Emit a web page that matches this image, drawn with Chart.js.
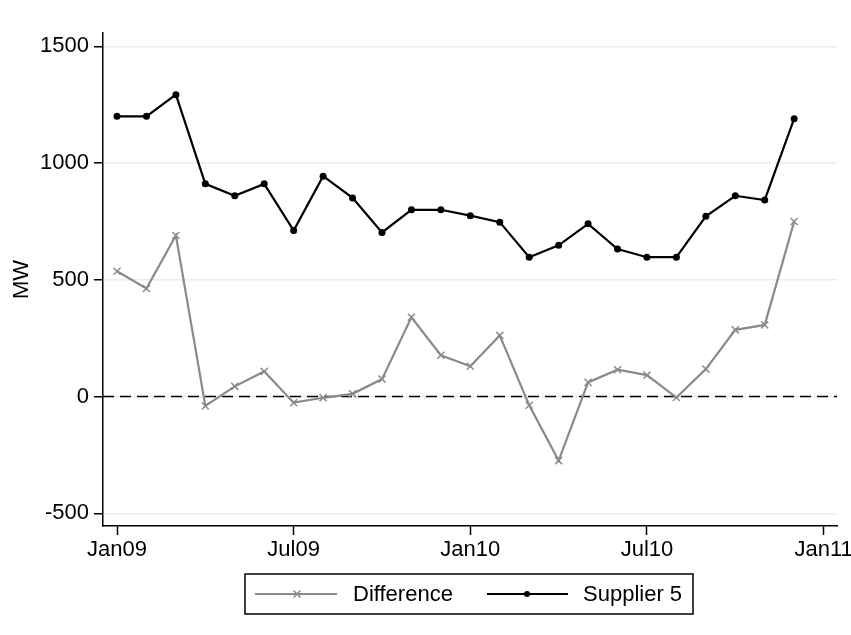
<!DOCTYPE html>
<html>
<head>
<meta charset="utf-8">
<script src="https://cdn.jsdelivr.net/npm/chart.js@4.4.1/dist/chart.umd.min.js"></script>
<style>
  html, body { margin: 0; padding: 0; background: #fff; }
  #wrap { width: 851px; height: 635px; position: relative; }
</style>
</head>
<body>
<div id="wrap"><canvas id="c" width="851" height="635"></canvas></div>
<script>
// Monthly observations, Jan 2009 – Dec 2010
const months = ['Jan09','Feb09','Mar09','Apr09','May09','Jun09','Jul09','Aug09','Sep09','Oct09','Nov09','Dec09',
                'Jan10','Feb10','Mar10','Apr10','May10','Jun10','Jul10','Aug10','Sep10','Oct10','Nov10','Dec10'];
const supplier5  = [1200, 1200, 1293, 911, 860, 911, 711, 944, 851, 703, 800, 800,
                    775, 747, 597, 648, 740, 632, 597, 597, 772, 860, 842, 1190];
const difference = [537, 463, 690, -40, 44, 108, -26, -5, 12, 75, 340, 177,
                    130, 262, -37, -274, 61, 115, 92, -4, 118, 286, 307, 750];

// Axis ticks (x in months since Jan09)
const xTickMonths = [0, 6, 12, 18, 24];
const xTickLabels = ['Jan09', 'Jul09', 'Jan10', 'Jul10', 'Jan11'];
const yTickValues = [-500, 0, 500, 1000, 1500];
const seriesNames = ['Difference', 'Supplier 5'];
const yTitle = 'MW';

const FONT = "'Liberation Sans', Arial, sans-serif";
const GRAY = '#8a8a8a';
const BLACK = '#000000';

const toPoints = arr => arr.map((v, i) => ({ x: i, y: v }));

// Dashed reference line at zero
const zeroLine = {
  id: 'zeroLine',
  beforeDatasetsDraw(chart) {
    const { ctx, chartArea, scales } = chart;
    const y = scales.y.getPixelForValue(0);
    ctx.save();
    ctx.strokeStyle = BLACK;
    ctx.lineWidth = 1.5;
    ctx.setLineDash([11, 6]);
    ctx.beginPath();
    ctx.moveTo(chartArea.left, y);
    ctx.lineTo(chartArea.right, y);
    ctx.stroke();
    ctx.restore();
  }
};

// Boxed legend below the axis
const boxedLegend = {
  id: 'boxedLegend',
  afterDraw(chart) {
    const ctx = chart.ctx;
    const box = { x: 245, y: 574, w: 448, h: 40 };
    const cy = box.y + box.h / 2;
    ctx.save();
    ctx.strokeStyle = BLACK;
    ctx.lineWidth = 1.5;
    ctx.strokeRect(box.x, box.y, box.w, box.h);

    ctx.font = '22px ' + FONT;
    ctx.fillStyle = BLACK;
    ctx.textBaseline = 'middle';

    // Difference: gray line with x marker
    ctx.strokeStyle = GRAY;
    ctx.lineWidth = 2;
    ctx.beginPath(); ctx.moveTo(255, cy); ctx.lineTo(337, cy); ctx.stroke();
    ctx.lineWidth = 1.5;
    const r = 3.5;
    ctx.beginPath();
    ctx.moveTo(297 - r, cy - r); ctx.lineTo(297 + r, cy + r);
    ctx.moveTo(297 - r, cy + r); ctx.lineTo(297 + r, cy - r);
    ctx.stroke();
    ctx.fillText(seriesNames[0], 353, cy + 1);

    // Supplier 5: black line with dot
    ctx.strokeStyle = BLACK;
    ctx.lineWidth = 2;
    ctx.beginPath(); ctx.moveTo(487, cy); ctx.lineTo(568, cy); ctx.stroke();
    ctx.beginPath(); ctx.arc(527, cy, 3, 0, Math.PI * 2); ctx.fill();
    ctx.fillText(seriesNames[1], 583, cy + 1);
    ctx.restore();
  }
};

new Chart(document.getElementById('c'), {
  type: 'line',
  data: {
    datasets: [
      {
        label: seriesNames[0],
        data: toPoints(difference),
        borderColor: GRAY,
        borderWidth: 2.2,
        pointStyle: 'crossRot',
        pointRadius: 5,
        pointBorderWidth: 1.5,
        pointBorderColor: GRAY,
        pointBackgroundColor: GRAY,
        tension: 0,
        fill: false
      },
      {
        label: seriesNames[1],
        data: toPoints(supplier5),
        borderColor: BLACK,
        borderWidth: 2.2,
        pointStyle: 'circle',
        pointRadius: 3.5,
        pointBorderWidth: 0,
        pointBackgroundColor: BLACK,
        tension: 0,
        fill: false
      }
    ]
  },
  options: {
    responsive: false,
    animation: false,
    devicePixelRatio: 1,
    layout: { padding: { top: 33, right: 14, bottom: 0, left: 0 } },
    plugins: {
      legend: { display: false },
      tooltip: { enabled: false }
    },
    scales: {
      x: {
        type: 'linear',
        min: -0.476,
        max: 24.455,
        afterBuildTicks: s => { s.ticks = xTickMonths.map(v => ({ value: v })); },
        afterFit: s => { s.height = 109; s.paddingLeft = 0; s.paddingRight = 0; },
        ticks: {
          autoSkip: false,
          maxRotation: 0,
          padding: 2,
          color: BLACK,
          font: { family: FONT, size: 22 },
          callback: v => xTickLabels[xTickMonths.indexOf(v)]
        },
        grid: { drawOnChartArea: false, tickLength: 9, tickColor: BLACK, tickWidth: 1.5 },
        border: { color: BLACK, width: 1.5 }
      },
      y: {
        min: -554,
        max: 1557,
        afterBuildTicks: s => { s.ticks = yTickValues.map(v => ({ value: v })); },
        afterFit: s => { s.width = 103; s.paddingTop = 0; s.paddingBottom = 0; },
        ticks: {
          padding: 5,
          color: BLACK,
          font: { family: FONT, size: 22 },
          callback: v => String(v)
        },
        grid: { color: '#e6eef2', lineWidth: 1.5, tickLength: 9, tickColor: BLACK, tickWidth: 1.5 },
        border: { color: BLACK, width: 1.5 },
        title: {
          display: true,
          text: yTitle,
          color: BLACK,
          font: { family: FONT, size: 22 },
          padding: { top: 9, bottom: 0 }
        }
      }
    }
  },
  plugins: [zeroLine, boxedLegend]
});
</script>
</body>
</html>
